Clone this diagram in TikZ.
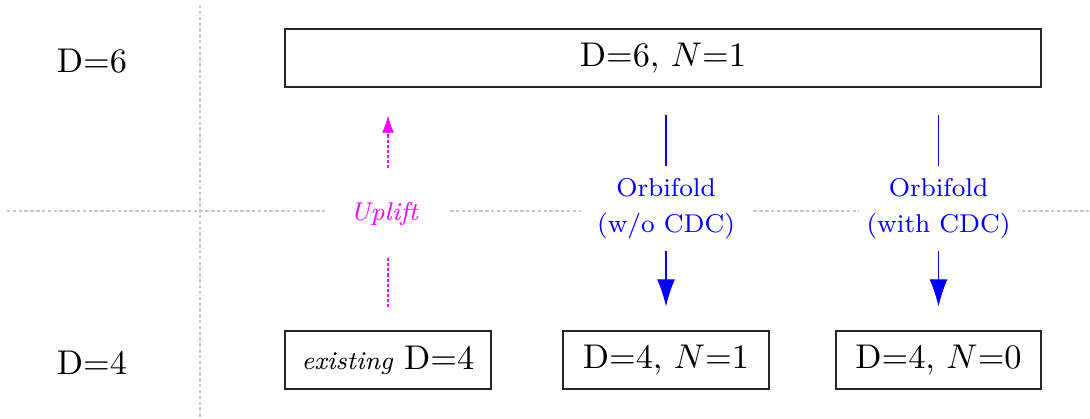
\documentclass[tikz,border=0pt]{standalone}
\usetikzlibrary{arrows.meta}
\newdimen\pxu
\pxu=0.2915pt
\definecolor{gridgray}{RGB}{200,200,200}
\definecolor{upmag}{RGB}{255,0,255}
\definecolor{orbblue}{RGB}{0,0,255}
\tikzset{
  grid line/.style={draw=gridgray, line width=0.3pt, dash pattern=on 1pt off 0.7pt},
  level/.style={font=\normalsize, anchor=base},
  theory/.style={draw=black!85, line width=0.35pt, minimum height=58*\pxu, inner sep=0pt},
  small label/.style={fill=white, inner sep=0pt, align=center, minimum height=85*\pxu,
    font=\fontsize{7.5}{10.5}\selectfont},
  uplift arrow/.style={draw=upmag, line width=0.3pt, dash pattern=on 0.9pt off 0.6pt,
    -{Latex[length=5pt,width=3.5pt]}},
  orbi arrow/.style={draw=orbblue, line width=0.3pt, -{Latex[length=7.9pt,width=5.25pt]}},
}
\begin{document}
\begin{tikzpicture}[x=\pxu, y=-\pxu]
  \useasboundingbox (0,0) rectangle (1090,419);

  % separating grid
  \draw[grid line] (7,211) -- (1090,211);
  \draw[grid line] (200,5) -- (200,419);

  % dimension labels
  \node[level] (l6) at (92,73) {D=6};
  \node[level] (l4) at (92,375) {D=4};

  % theories
  \node[theory, minimum width=756*\pxu] (top) at (663,58) {D=6, $N$=1};
  \node[theory, minimum width=206*\pxu] (ex) at (388,360) {{\fontsize{7.5}{9}\selectfont\itshape existing} D=4};
  \node[theory, minimum width=206*\pxu] (n1) at (666,360) {D=4, $N$=1};
  \node[theory, minimum width=205*\pxu] (n0) at (938.5,360) {D=4, $N$=0};

  % relations
  \draw[uplift arrow, shorten <=23*\pxu, shorten >=28*\pxu]
    (ex.north) -- (ex.north |- top.south)
    node[small label, pos=0.48, minimum width=120*\pxu, text=upmag] (up)
      {\hspace*{-8\pxu}\itshape Uplift};
  \draw[orbi arrow, shorten <=27*\pxu, shorten >=24*\pxu]
    (n1.north |- top.south) -- (n1.north)
    node[small label, pos=0.5, minimum width=170*\pxu, text=orbblue] (o1) {Orbifold\\(w/o CDC)};
  \draw[orbi arrow, shorten <=27*\pxu, shorten >=24*\pxu]
    (n0.north |- top.south) -- (n0.north)
    node[small label, pos=0.5, minimum width=159*\pxu, text=orbblue] (o2) {Orbifold\\(with CDC)};
\end{tikzpicture}
\end{document}
